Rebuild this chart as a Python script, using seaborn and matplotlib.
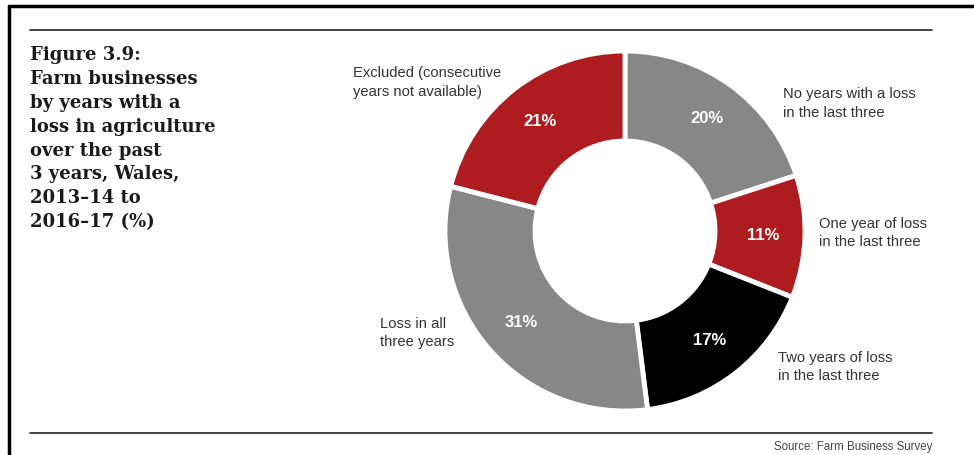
import matplotlib
matplotlib.use('Agg')
import matplotlib.pyplot as plt
import seaborn as sns
import numpy as np
from matplotlib.lines import Line2D

sns.set_theme(style='white')
plt.rcParams['font.family'] = ['Liberation Sans', 'DejaVu Sans']

# data (clockwise from 12 o'clock)
categories = ['No years with a loss\nin the last three',
              'One year of loss\nin the last three',
              'Two years of loss\nin the last three',
              'Loss in all\nthree years',
              'Excluded (consecutive\nyears not available)']
shares = [20, 11, 17, 31, 21]
colors = ['#878787', '#AE1C1F', '#000000', '#878787', '#AE1C1F']

W, H = 974, 455
fig = plt.figure(figsize=(W / 100, H / 100), dpi=100)

# donut axes: centre (625, 231) px, radius 180 px
cx, cy, r = 625, 231, 180
ax = fig.add_axes([(cx - r) / W, (H - cy - r) / H, 2 * r / W, 2 * r / H])
wedges, texts = ax.pie(shares, colors=colors, startangle=90, counterclock=False,
                       radius=1.0,
                       wedgeprops=dict(width=0.5, edgecolor='white', linewidth=3.5))
ax.set_xlim(-1, 1)
ax.set_ylim(-1, 1)
ax.set_aspect('equal')
ax.axis('off')

# percentage labels in the ring
for w, v in zip(wedges, shares):
    mid = np.deg2rad((w.theta1 + w.theta2) / 2)
    ax.text(0.77 * np.cos(mid), 0.77 * np.sin(mid), f'{v}%', ha='center', va='center',
            color='white', fontsize=12, fontweight='bold')

# outer category labels
label_pos = [(0.88, 0.80), (1.08, 0.08), (0.85, -0.665), (-1.36, -0.475), (-1.51, 0.915)]
for (x, y), lab in zip(label_pos, categories):
    ax.text(x, y, lab, ha='left', va='top', fontsize=10.6, color='#333333',
            linespacing=1.42, clip_on=False)

# title block
fig.text(30 / W, 1 - 46 / H,
         'Figure 3.9:\nFarm businesses\nby years with a\nloss in agriculture\nover the past\n3 years, Wales,\n2013–14 to\n2016–17 (%)',
         ha='left', va='top', fontsize=13, fontweight='bold', family='DejaVu Serif',
         color='#1a1a1a', linespacing=1.42)

fig.text(932 / W, 1 - 447 / H, 'Source: Farm Business Survey', ha='right', va='center',
         fontsize=8.3, color='#444444')

# rules and frame
for yy in (30, 433):
    fig.add_artist(Line2D([30 / W, 932 / W], [1 - yy / H, 1 - yy / H], color='#222222', lw=1.2))
fig.add_artist(Line2D([9 / W, 9 / W], [0, 1 - 6 / H], color='black', lw=2.5))
fig.add_artist(Line2D([9 / W, 1], [1 - 6 / H, 1 - 6 / H], color='black', lw=2.5))

fig.savefig('out.png', dpi=100)
